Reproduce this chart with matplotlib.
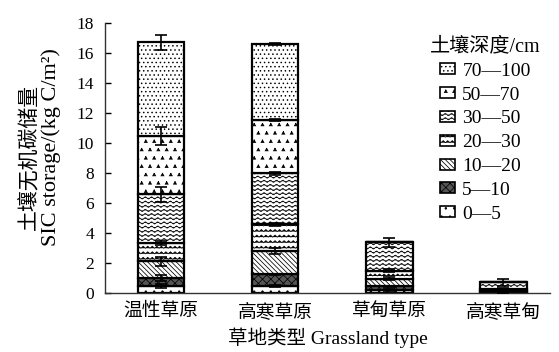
import warnings
import numpy as np
import matplotlib
matplotlib.use("Agg")
import matplotlib.pyplot as plt
import matplotlib.hatch as mhatch
from matplotlib.path import Path
from matplotlib.patches import Patch

warnings.filterwarnings("ignore")

# ---------------------------------------------------------------- data
categories = ["温性草原", "高寒草原", "草甸草原", "高寒草甸"]
depth_labels = ["0—5", "5—10", "10—20", "20—30", "30—50", "50—70", "70—100"]

# SIC storage of each depth layer (kg C/m²), one value per grassland type
sic_0_5 = [0.47, 0.47, 0.20, 0.03]
sic_5_10 = [0.55, 0.78, 0.25, 0.05]
sic_10_20 = [1.11, 1.55, 0.50, 0.08]
sic_20_30 = [1.22, 1.78, 0.55, 0.10]
sic_30_50 = [3.23, 3.40, 1.88, 0.45]
sic_50_70 = [3.89, 3.55, 0.00, 0.00]
sic_70_100 = [6.24, 5.05, 0.00, 0.00]

# standard errors of each layer
se_0_5 = [0.15, 0.05, 0.05, 0.02]
se_5_10 = [0.20, 0.05, 0.05, 0.02]
se_10_20 = [0.30, 0.20, 0.10, 0.03]
se_20_30 = [0.15, 0.10, 0.10, 0.05]
se_30_50 = [0.50, 0.08, 0.30, 0.25]
se_50_70 = [0.60, 0.08, 0.00, 0.00]
se_70_100 = [0.50, 0.08, 0.00, 0.00]

layers = [sic_0_5, sic_5_10, sic_10_20, sic_20_30, sic_30_50, sic_50_70, sic_70_100]
errors = [se_0_5, se_5_10, se_10_20, se_20_30, se_30_50, se_50_70, se_70_100]


# ---------------------------------------------------------- custom hatches
class WaveRows(mhatch.HatchPatternBase):
    """'~' : rows of smooth waves."""
    cycles = 16
    pts = 8

    def __init__(self, hatch, density):
        self.num_rows = int(hatch.count('~') * density)
        self.n = self.cycles * self.pts + 1
        self.num_vertices = self.num_rows * self.n

    def set_vertices_and_codes(self, vertices, codes):
        xs = np.linspace(0.0, 1.0, self.n)
        step = 1.0 / self.num_rows
        for i in range(self.num_rows):
            sl = slice(i * self.n, (i + 1) * self.n)
            vertices[sl, 0] = xs
            vertices[sl, 1] = (i + 0.5) * step + 0.25 * step * np.sin(
                2 * np.pi * self.cycles * xs)
            codes[sl] = Path.LINETO
            codes[i * self.n] = Path.MOVETO


class ZigzagRows(mhatch.HatchPatternBase):
    """'z' : rows of short zigzags."""
    teeth = 22

    def __init__(self, hatch, density):
        self.num_rows = int(hatch.count('z') * density)
        self.n = 2 * self.teeth + 1
        self.num_vertices = self.num_rows * self.n

    def set_vertices_and_codes(self, vertices, codes):
        xs = np.linspace(0.0, 1.0, self.n)
        step = 1.0 / self.num_rows
        offs = np.where(np.arange(self.n) % 2 == 0, -0.18, 0.18) * step
        for i in range(self.num_rows):
            sl = slice(i * self.n, (i + 1) * self.n)
            vertices[sl, 0] = xs
            vertices[sl, 1] = (i + 0.5) * step + offs
            codes[sl] = Path.LINETO
            codes[i * self.n] = Path.MOVETO


class Triangles(mhatch.Shapes):
    """'v' : small filled triangles."""
    size = 0.2
    filled = True

    def __init__(self, hatch, density):
        self.num_rows = int(hatch.count('v') * density)
        path = Path.unit_regular_polygon(3)
        self.shape_vertices = path.vertices
        self.shape_codes = np.full(len(path.vertices), Path.LINETO,
                                   dtype=Path.code_type)
        self.shape_codes[0] = Path.MOVETO
        super().__init__(hatch, density)


class Dots(mhatch.Circles):
    """':' : filled dots."""
    size = 0.1
    filled = True

    def __init__(self, hatch, density):
        self.num_rows = int(hatch.count(':') * density)
        super().__init__(hatch, density)


mhatch._hatch_types.extend([WaveRows, ZigzagRows, Triangles, Dots])

# ------------------------------------------------------------------ style
plt.rcParams['font.family'] = ['Liberation Serif', 'Noto Sans CJK SC']
plt.rcParams['hatch.linewidth'] = 0.55
plt.rcParams['axes.unicode_minus'] = False

faces = ['white', '#555555', 'white', 'white', 'white', 'white', 'white']
hatches = ['..', 'xxxx', '\\\\\\\\\\\\\\', 'zzz', '~~~~', 'vv', '::::']

W, H = 559, 352
fig = plt.figure(figsize=(W / 100, H / 100), dpi=100)
ax = fig.add_axes([105 / W, 1 - 293 / H, 445 / W, 270 / H])

x = np.arange(len(categories))
bar_w = 0.41
bottom = np.zeros(len(categories))
for vals, err, fc, hp in zip(layers, errors, faces, hatches):
    vals = np.asarray(vals, float)
    err = np.asarray(err, float)
    ax.bar(x, vals, bar_w, bottom=bottom, facecolor=fc, edgecolor='black',
           hatch=hp, linewidth=1.6, zorder=2)
    top = bottom + vals
    mask = vals > 0
    ax.errorbar(x[mask], top[mask], yerr=err[mask], fmt='none',
                ecolor='black', elinewidth=1.2, capsize=4, capthick=1.2,
                zorder=3)
    bottom = top

ax.set_xlim(-0.49, 3.41)
ax.set_ylim(0, 18)
ax.set_yticks(np.arange(0, 19, 2))
ax.set_xticks(x)
ax.set_xticklabels(categories, fontsize=13.5)
ax.tick_params(axis='y', direction='in', length=4, width=1, labelsize=12.5,
               pad=8)
ax.tick_params(axis='x', length=0, pad=7)
for side in ('top', 'right'):
    ax.spines[side].set_visible(False)
for side in ('left', 'bottom'):
    ax.spines[side].set_linewidth(1.0)
    ax.spines[side].set_color('#333333')

ax.set_xlabel("草地类型 Grassland type", fontsize=14, labelpad=5)
fig.text(30 / W, 1 - 157 / H, "土壤无机碳储量", rotation=90, fontsize=15,
         ha='center', va='center')
fig.text(51 / W, 1 - 147 / H, "SIC storage/(kg C/m²)", rotation=90,
         fontsize=16, ha='center', va='center')

handles = [Patch(facecolor=fc, edgecolor='black', hatch=hp, linewidth=1.2)
           for fc, hp in zip(faces, hatches)][::-1]
leg = ax.legend(handles, depth_labels[::-1], title="土壤深度/cm",
                loc='upper left', bbox_to_anchor=(430 / W, 1 - 37 / H),
                bbox_transform=fig.transFigure, frameon=False,
                fontsize=14, title_fontsize=14.5, handlelength=0.75,
                handleheight=0.5, handletextpad=0.4, labelspacing=0.35,
                borderaxespad=0, borderpad=0)

fig.savefig("out.png", dpi=100)
